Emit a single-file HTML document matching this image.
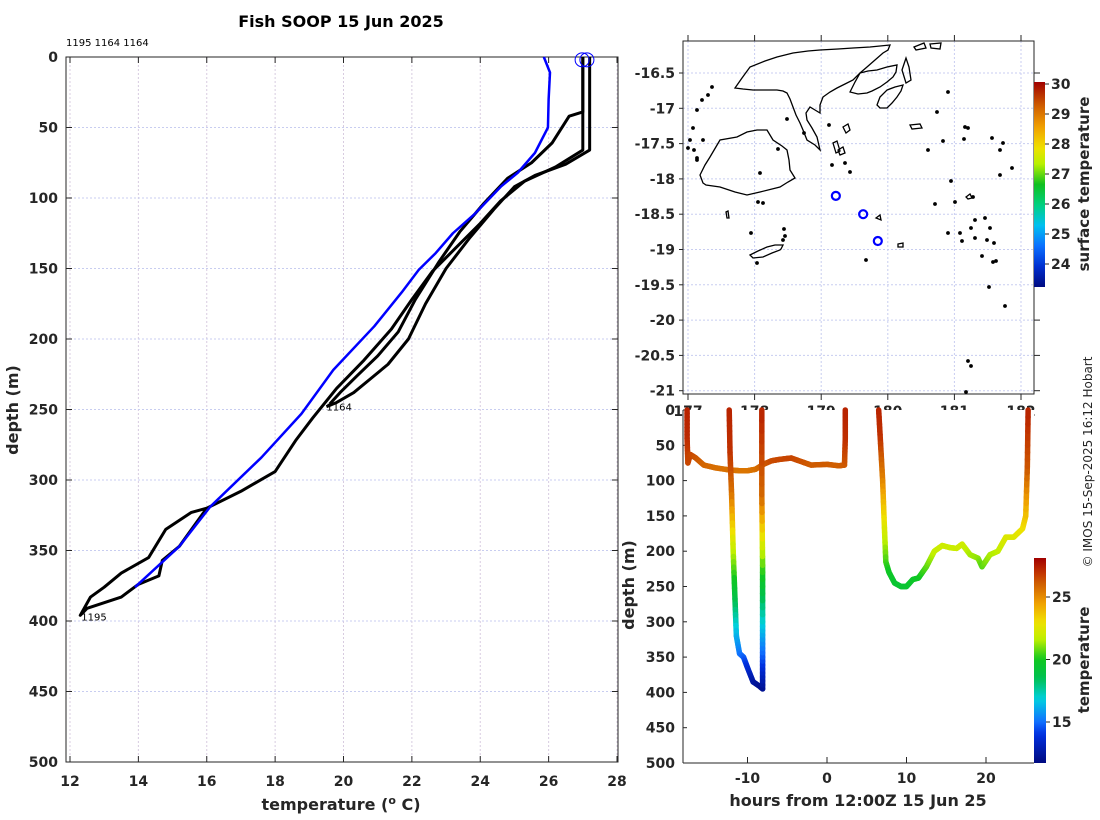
<!DOCTYPE html>
<html><head><meta charset="utf-8">
<style>
html,body{margin:0;padding:0;background:#fff;}
svg{display:block;font-family:"DejaVu Sans","Liberation Sans",sans-serif;}
.tk{font-size:14px;font-weight:bold;fill:#262626;}
.lb{font-size:16px;font-weight:bold;fill:#262626;}
</style></head>
<body>
<svg id="chart" width="1100" height="820" viewBox="0 0 1100 820" xmlns="http://www.w3.org/2000/svg">
<text x="341" y="27" text-anchor="middle" style="font-size:16px;font-weight:bold;fill:#000">Fish SOOP 15 Jun 2025</text>
<text x="66" y="46" style="font-size:10px;fill:#000">1195 1164 1164</text>
<text transform="translate(1092,462) rotate(-90)" text-anchor="middle" style="font-size:12px;fill:#262626">© IMOS 15-Sep-2025 16:12 Hobart</text>
<g id="left"></g>
<g id="map"></g>
<g id="ts"></g>
</svg>
<script>
// ---------- data: temperature profiles ----------
const leftXTicks=[12,14,16,18,20,22,24,26,28];
const leftYTicks=[0,50,100,150,200,250,300,350,400,450,500];
const climTemp=[25.86,26.04,26.0,25.98,25.6,25.1,24.6,23.85,23.2,22.7,22.2,21.7,20.9,19.7,18.77,17.6,16.1,15.2,13.9];
const climDepth=[0,11,30,50,68,82,92,111,125,139,151,167,191,222,253,284,319,347,376];
const p1195Temp=[27.0,27.0,26.2,25.3,24.6,24.0,23.3,22.6,22.0,21.4,20.6,19.8,19.1,18.6,18.0,17.0,16.0,15.55,14.8,14.3,13.5,13.0,12.6,12.3,12.5,13.0,13.5,14.0,14.6,14.7,15.2,16.0];
const p1195Depth=[0,66,78,88,102,118,135,152,172,193,215,235,256,272,294,308,320,323,335,355,366,376,383,396,391,387,383,374,368,357,347,320];
const p1164aTemp=[27.2,27.2,26.5,25.6,25.0,24.4,23.7,23.0,22.4,21.9,21.3,20.8,20.3,19.8,19.5];
const p1164aDepth=[0,66,76,84,92,108,128,150,175,200,218,228,238,245,248];
const p1164bTemp=[27.0,27.0,26.6,26.1,25.5,24.8,24.1,23.4,22.8,22.1,21.6,21.0,20.4,19.9,19.6];
const p1164bDepth=[0,39,42,61,75,86,104,124,145,172,195,212,226,238,246];
const markerTemp=[26.98,27.12];
const markerDepth=[2,2];

// ---------- data: map ----------
const lonTicks=[177,178,179,180,181,182];
const latTicks=[-16.5,-17,-17.5,-18,-18.5,-19,-19.5,-20,-20.5,-21];
const stationLon=[179.22,179.63,179.85];
const stationLat=[-18.24,-18.50,-18.88];
const sstTicks=[24,25,26,27,28,29,30];

// ---------- data: depth-time ----------
const tsXTicks=[-10,0,10,20];
const tsYTicks=[0,50,100,150,200,250,300,350,400,450,500];
const tempTicks=[15,20,25];
const seg1Hours=[-17.6,-17.6,-17.5,-17.2,-16.5,-15.5,-14,-12.2];
const seg1Depth=[0,40,75,63,68,78,82,85];
const seg1Temp=[27.3,27.2,26.5,26.6,26.3,25.9,25.7,25.6];
const seg2Hours=[-12.3,-12.2,-12.0,-11.8,-11.6,-11.4,-11.0,-10.5,-10.0,-9.3,-8.4,-8.1,-8.1,-8.1,-8.1,-8.2,-8.2];
const seg2Depth=[0,60,120,200,260,320,345,350,365,385,392,395,350,300,220,120,0];
const seg2Temp=[27.3,27.0,25.6,21.8,19.2,16.3,15.2,14.8,13.8,12.6,12.1,12.0,14.5,16.8,20.5,25.8,27.3];
const seg3Hours=[-12.2,-11,-10,-9,-8,-7,-6,-4.5,-3,-2,0,1.5,2.2];
const seg3Depth=[85,86,86,84,77,72,70,68,74,78,77,79,78];
const seg3Temp=[25.6,25.5,25.5,25.6,26.0,26.4,26.5,26.6,26.3,26.1,26.1,26.0,26.1];
const seg4Hours=[2.2,2.3,2.3];
const seg4Depth=[78,40,0];
const seg4Temp=[26.1,27.0,27.3];
const seg5Hours=[6.5,6.7,7.0,7.2,7.4,7.8,8.5,9.3,10.0,10.8,11.5,12.5,13.5,14.5,15.5,16.3,17.0,18.0,19.0,19.5,20.5,21.5,22.5,23.5,24.6,25.0,25.2,25.3];
const seg5Depth=[0,40,100,160,215,230,245,250,250,240,238,222,200,192,195,196,190,205,210,222,205,200,180,180,168,150,80,0];
const seg5Temp=[27.3,27.0,25.2,22.8,20.5,19.9,19.5,19.4,19.4,19.7,19.8,20.6,21.7,22.0,21.9,21.9,22.1,21.4,21.2,20.6,21.4,21.6,22.4,22.4,22.9,23.6,26.2,27.3];

const NS="http://www.w3.org/2000/svg";
function mk(parent,tag,attrs){const e=document.createElementNS(NS,tag);for(const k in attrs)e.setAttribute(k,attrs[k]);parent.appendChild(e);return e;}
function txt(parent,x,y,s,cls,anchor){const t=mk(parent,'text',{x:x,y:y,class:cls,'text-anchor':anchor||'middle'});t.textContent=s;return t;}

// ---------- left plot ----------
const L=document.getElementById('left');
const lx=t=>70+(t-12)*(547/16);
const ly=d=>57+d*(705/500);
mk(L,'rect',{x:66,y:57,width:552,height:705,fill:'#fff'});
leftXTicks.forEach(v=>{
  const g=mk(L,'line',{x1:lx(v),x2:lx(v),y1:57,y2:762,stroke:'#d8cce0','stroke-dasharray':'2,2','stroke-width':1});
  
  
  mk(L,'line',{x1:lx(v),x2:lx(v),y1:57,y2:63,stroke:'#262626'});
  mk(L,'line',{x1:lx(v),x2:lx(v),y1:762,y2:756,stroke:'#262626'});
  const t=txt(L,lx(v),786,String(v),'tk');
  
  
});
leftYTicks.forEach(v=>{
  const g=mk(L,'line',{x1:66,x2:618,y1:ly(v),y2:ly(v),stroke:'#c8cdf0','stroke-dasharray':'2,2','stroke-width':1});
  
  
  mk(L,'line',{x1:66,x2:72,y1:ly(v),y2:ly(v),stroke:'#262626'});
  mk(L,'line',{x1:618,x2:612,y1:ly(v),y2:ly(v),stroke:'#262626'});
  const t=txt(L,58,ly(v)+5,String(v),'tk','end');
  
  
});
mk(L,'rect',{x:66,y:57,width:552,height:705,fill:'none',stroke:'#262626','stroke-width':1});
function prof(T,D,col,w,name){
  const p=mk(L,'polyline',{points:T.map((t,i)=>lx(t)+','+ly(D[i])).join(' '),fill:'none',stroke:col,'stroke-width':w,'stroke-linejoin':'round'});
  
  
}
prof(p1195Temp,p1195Depth,'#000',3,'profile-1195');
prof(p1164aTemp,p1164aDepth,'#000',3,'profile-1164-a');
prof(p1164bTemp,p1164bDepth,'#000',3,'profile-1164-b');
prof(climTemp,climDepth,'#0000ff',2.5,'climatology-profile');
markerTemp.forEach((t,i)=>{
  const c=mk(L,'circle',{cx:lx(t),cy:ly(markerDepth[i]),r:7,fill:'none',stroke:'#0000ff','stroke-width':1});
  
  
});
let t1=txt(L,lx(12.3)+1,ly(396)+5,'1195','', 'start');t1.setAttribute('style','font-size:10px;fill:#000');

let t2=txt(L,lx(19.5),ly(248)+4,'1164','','start');t2.setAttribute('style','font-size:10px;fill:#000');

let xl=txt(L,341,810,'temperature (','lb');
xl.innerHTML='temperature (<tspan dy="-6" style="font-size:11px">o</tspan><tspan dy="6"> C)</tspan>';

let yl=mk(L,'text',{transform:'translate(18,410) rotate(-90)','text-anchor':'middle',class:'lb'});yl.textContent='depth (m)';


// ---------- colormaps ----------
const sstStops=[[0,'#000a80'],[0.1,'#0030d0'],[0.2,'#0a70ff'],[0.3,'#00c0f0'],[0.4,'#00d080'],[0.5,'#10c020'],[0.6,'#b8f000'],[0.68,'#f0e000'],[0.78,'#f0a000'],[0.88,'#d06000'],[1,'#a00000']];
function hex(c){return [parseInt(c.substr(1,2),16),parseInt(c.substr(3,2),16),parseInt(c.substr(5,2),16)];}
function cmap(f){f=Math.max(0,Math.min(1,f));for(let i=1;i<sstStops.length;i++){if(f<=sstStops[i][0]){const a=sstStops[i-1],b=sstStops[i];const u=(f-a[0])/(b[0]-a[0]);const A=hex(a[1]),B=hex(b[1]);return 'rgb('+A.map((v,k)=>Math.round(v+(B[k]-v)*u)).join(',')+')';}}return sstStops[sstStops.length-1][1];}
const tStops=[[11.7,'#000a80'],[14,'#0030e0'],[15,'#1070ff'],[16.8,'#00d0e0'],[18.5,'#00c050'],[20,'#10c820'],[21.6,'#c0f000'],[23,'#f0e000'],[24.5,'#f0a000'],[26,'#d06000'],[27,'#c03000'],[28.1,'#a00000']];
function tcol(t){t=Math.max(11.7,Math.min(28.1,t));for(let i=1;i<tStops.length;i++){if(t<=tStops[i][0]){const a=tStops[i-1],b=tStops[i];const u=(t-a[0])/(b[0]-a[0]);const A=hex(a[1]),B=hex(b[1]);return 'rgb('+A.map((v,k)=>Math.round(v+(B[k]-v)*u)).join(',')+')';}}return '#a00000';}
const defs=mk(document.getElementById('chart'),'defs',{});
function grad(id,fn,lo,hi){const g=mk(defs,'linearGradient',{id:id,x1:0,y1:1,x2:0,y2:0});for(let i=0;i<=40;i++){const f=i/40;mk(g,'stop',{offset:f,'stop-color':fn(lo+(hi-lo)*f)});}}
grad('gsst',v=>cmap((v-23.2)/(30.2-23.2)),23.2,30.2);
grad('gtemp',tcol,11.7,28.1);

// ---------- map ----------
const M=document.getElementById('map');
const mx=lo=>688+(lo-177)*66.6;
const my=la=>73+(-16.5-la)*70.6;
lonTicks.forEach(v=>{
  const g=mk(M,'line',{x1:mx(v),x2:mx(v),y1:41,y2:394,stroke:'#c8cdf0','stroke-dasharray':'2,2'});
  
  mk(M,'line',{x1:mx(v),x2:mx(v),y1:41,y2:35,stroke:'#262626'});
  mk(M,'line',{x1:mx(v),x2:mx(v),y1:394,y2:400,stroke:'#262626'});
  const t=txt(M,mx(v),416,String(v),'tk');
});
latTicks.forEach(v=>{
  const g=mk(M,'line',{x1:683,x2:1034,y1:my(v),y2:my(v),stroke:'#c8cdf0','stroke-dasharray':'2,2'});
  
  mk(M,'line',{x1:683,x2:679,y1:my(v),y2:my(v),stroke:'#262626'});
  mk(M,'line',{x1:1034,x2:1040,y1:my(v),y2:my(v),stroke:'#262626'});
  const t=txt(M,675,my(v)+5,String(v),'tk','end');
});
mk(M,'rect',{x:683,y:41,width:351,height:353,fill:'none',stroke:'#262626'});
const coasts=[
 ['viti-levu-coast','M700,175 L705,165 L710,157 L720,140 L737,137 L747,132 L757,130 L767,130 L773,140 L782,146 L787,150 L789,160 L790,170 L795,178 L788,182 L780,187 L760,192 L747,195 L735,192 L720,187 L706,185 L703,183 Z'],
 ['vanua-levu-coast','M735,88 L742,78 L750,67 L765,61 L777,57 L793,53 L808,51 L820,50 L838,49 L853,48 L870,47 L890,45 L888,50 L883,53 L875,60 L867,67 L860,73 L853,80 L845,84 L837,88 L830,92 L823,97 L820,105 L820,113 L815,110 L810,107 L806,113 L807,120 L812,128 L817,137 L820,150 L815,145 L807,140 L803,130 L800,123 L796,115 L793,107 L790,99 L787,93 L783,91 L777,90 L765,90 L753,90 L743,89 Z'],
 ['taveuni-coast','M850,92 L855,82 L860,73 L868,71 L877,70 L887,67 L897,65 L896,72 L893,77 L887,82 L880,87 L872,91 L867,93 L858,94 Z'],
 ['qamea-coast','M877,105 L880,97 L887,90 L895,87 L903,85 L901,91 L897,97 L892,103 L887,108 L880,108 Z'],
 ['kadavu-coast','M750,255 L758,251 L767,247 L775,245 L783,245 L781,249 L780,250 L772,253 L763,257 L753,258 Z'],
 ['lakeba-island','M843,127 L848,124 L850,130 L846,133 Z'],
 ['moala-island','M838,150 L843,147 L845,153 L840,155 Z'],
 ['ovalau-island','M833,143 L837,141 L840,151 L836,153 Z'],
 ['bligh-isl-1','M902,70 L906,58 L909,67 L911,80 L906,83 Z'],
 ['north-isl-1','M914,47 L924,43 L926,48 L916,50 Z'],
 ['north-isl-2','M930,44 L941,43 L940,49 L931,48 Z'],
 ['lau-isl-1','M910,125 L920,124 L922,128 L912,129 Z'],
 ['lau-isl-2','M966,197 L970,194 L972,198 L968,199 Z'],
 ['totoya','M876,218 L880,215 L881,220 Z'],
 ['matuku','M898,244 L903,243 L903,247 L898,247 Z'],
 ['west-isl','M726,212 L728,211 L729,218 L727,218 Z']
];
coasts.forEach(c=>{const p=mk(M,'path',{d:c[1],fill:'none',stroke:'#000','stroke-width':1.3});});
const dots=[[712,87],[708,95],[702,100],[697,110],[693,128],[690,140],[694,150],[697,158],[697,160],[688,148],[703,140],[787,119],[804,133],[829,125],[845,163],[928,150],[937,112],[948,92],[943,141],[965,127],[968,128],[964,139],[992,138],[1003,143],[1000,150],[1012,168],[1000,175],[951,181],[955,202],[948,233],[935,204],[973,197],[975,220],[971,228],[985,218],[960,233],[962,241],[975,238],[990,228],[987,240],[994,243],[982,256],[993,262],[996,261],[989,287],[1005,306],[968,361],[971,366],[966,392],[760,173],[758,202],[763,203],[751,233],[783,240],[784,229],[785,236],[757,263],[866,260],[850,172],[832,165],[778,149]];
dots.forEach(d=>{const c=mk(M,'circle',{cx:d[0],cy:d[1],r:1.4,fill:'#000',stroke:'#000','stroke-width':1});});
stationLon.forEach((lo,i)=>{
  const c=mk(M,'circle',{cx:mx(lo),cy:my(stationLat[i]),r:4,fill:'none',stroke:'#0000ff','stroke-width':2.2});
  
});
const cb1=mk(M,'rect',{x:1034,y:82,width:11,height:205,fill:'url(#gsst)'});

const sy=v=>84+(30-v)*30;
sstTicks.forEach(v=>{mk(M,'line',{x1:1045,x2:1049,y1:sy(v),y2:sy(v),stroke:'#262626'});
  const t=txt(M,1051,sy(v)+5,String(v),'tk','start');});
let st=mk(M,'text',{transform:'translate(1089,184) rotate(-90)','text-anchor':'middle',class:'lb'});st.textContent='surface temperature';st.setAttribute('style','font-size:15px');


// ---------- depth-time plot ----------
const S=document.getElementById('ts');
mk(S,'rect',{x:683,y:410,width:351,height:353,fill:'#fff'});
const tx=h=>827+h*7.95;
const ty=d=>410+d*(353/500);
tsXTicks.forEach(v=>{mk(S,'line',{x1:tx(v),x2:tx(v),y1:763,y2:757,stroke:'#262626'});
  const t=txt(S,tx(v),783,String(v),'tk');});
tsYTicks.forEach(v=>{mk(S,'line',{x1:683,x2:687,y1:ty(v),y2:ty(v),stroke:'#262626'});
  const t=txt(S,675,ty(v)+5,String(v),'tk','end');});
mk(S,'line',{x1:683,x2:683,y1:410,y2:763,stroke:'#262626'});
mk(S,'line',{x1:683,x2:1034,y1:763,y2:763,stroke:'#262626'});
function track(H,D,T,name){
  const g=mk(S,'g',{});
  for(let i=0;i<H.length-1;i++){const n=8;for(let k=0;k<n;k++){const a=k/n,b=(k+1)/n;
    const x1=tx(H[i]+(H[i+1]-H[i])*a),y1=ty(D[i]+(D[i+1]-D[i])*a),x2=tx(H[i]+(H[i+1]-H[i])*b),y2=ty(D[i]+(D[i+1]-D[i])*b);
    const tt=T[i]+(T[i+1]-T[i])*(a+b)/2;
    mk(g,'line',{x1:x1,y1:y1,x2:x2,y2:y2,stroke:tcol(tt),'stroke-width':5.5,'stroke-linecap':'round'});}}
}
track(seg1Hours,seg1Depth,seg1Temp,'track-segment-1');
track(seg3Hours,seg3Depth,seg3Temp,'track-segment-3');
track(seg2Hours,seg2Depth,seg2Temp,'track-segment-2');
track(seg4Hours,seg4Depth,seg4Temp,'track-segment-4');
track(seg5Hours,seg5Depth,seg5Temp,'track-segment-5');
const cb2=mk(S,'rect',{x:1034,y:558,width:12,height:205,fill:'url(#gtemp)'});

const cy=v=>597+(25-v)*12.5;
tempTicks.forEach(v=>{mk(S,'line',{x1:1046,x2:1050,y1:cy(v),y2:cy(v),stroke:'#262626'});
  const t=txt(S,1052,cy(v)+5,String(v),'tk','start');});
let ct=mk(S,'text',{transform:'translate(1089,660) rotate(-90)','text-anchor':'middle',class:'lb'});ct.textContent='temperature';ct.setAttribute('style','font-size:15px');

let hx=txt(S,858,806,'hours from 12:00Z 15 Jun 25','lb');
let hy=mk(S,'text',{transform:'translate(634,585) rotate(-90)','text-anchor':'middle',class:'lb'});hy.textContent='depth (m)';

</script>
</body></html>
